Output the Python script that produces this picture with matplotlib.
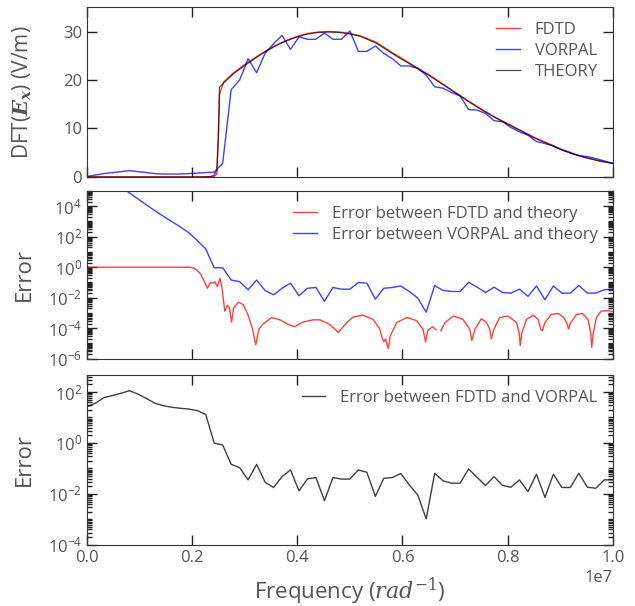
import numpy as np
import matplotlib
matplotlib.use("Agg")
import matplotlib.pyplot as plt
from matplotlib.ticker import LogLocator, NullFormatter, MultipleLocator

plt.rcParams['font.family'] = ['Open Sans', 'DejaVu Sans']
plt.rcParams['mathtext.fontset'] = 'custom'
plt.rcParams['mathtext.rm'] = 'DejaVu Serif'
plt.rcParams['mathtext.it'] = 'DejaVu Serif:italic'
plt.rcParams['mathtext.bf'] = 'DejaVu Serif:italic:bold'

# simulation frequency grid (63 samples, 0 .. 1e7)
freq = np.linspace(0, 1e7, 63)

# top panel: VORPAL spectrum on the grid (V/m)
vorpal = [0.1, 0.4, 0.7, 0.9, 1.1, 1.3, 1.1, 0.9, 0.7, 0.6, 0.6, 0.6, 0.7, 0.8, 0.9, 1.0,
          2.8, 18.0, 20.0, 24.4, 21.5, 25.5, 27.5, 29.2, 26.3, 28.9, 28.4, 28.4, 29.7, 28.4,
          28.4, 30.1, 25.9, 25.9, 27.0, 25.5, 24.4, 22.9, 22.9, 22.4, 21.0, 18.6, 18.3, 17.4,
          16.7, 13.9, 13.8, 13.1, 11.6, 11.4, 10.2, 9.3, 8.6, 7.3, 6.9, 6.4, 5.6, 5.0, 4.4,
          4.2, 3.8, 3.3, 2.8]

# theory / FDTD curves (x in units of 1e7)
theory_x = [0.0, 0.20, 0.235, 0.242, 0.247, 0.250, 0.252, 0.26, 0.28, 0.30, 0.32, 0.34, 0.36,
            0.38, 0.40, 0.42, 0.44, 0.46, 0.48, 0.50, 0.52, 0.55, 0.58, 0.60, 0.625, 0.65,
            0.675, 0.70, 0.725, 0.75, 0.775, 0.80, 0.825, 0.85, 0.875, 0.90, 0.925, 0.95,
            0.975, 1.0]
theory = [0.0, 0.0, 0.05, 0.4, 1.5, 8.0, 18.5, 19.4, 21.4, 23.0, 24.5, 25.9, 27.1, 28.1, 28.9,
          29.5, 29.8, 29.9, 29.8, 29.5, 29.0, 27.6, 25.5, 24.2, 22.6, 21.0, 19.2, 17.4, 15.6,
          13.9, 12.3, 10.9, 9.5, 8.1, 6.9, 5.7, 4.7, 3.9, 3.3, 2.8]
fdtd = [0.0, 0.0, 0.0, 0.1, 0.6, 10.0, 17.0, 19.6, 21.6, 23.2, 24.6, 26.0, 27.2, 28.2, 29.0,
        29.6, 29.9, 30.0, 29.9, 29.6, 29.1, 27.8, 25.7, 24.4, 22.7, 21.1, 19.3, 17.5, 15.7,
        14.0, 12.4, 11.0, 9.6, 8.2, 7.0, 5.8, 4.8, 4.0, 3.3, 2.8]

# middle panel: relative error FDTD vs theory (log10), own x (units of 1e7)
fdtd_err_x = [0.0, 0.196, 0.205, 0.215, 0.222, 0.229, 0.235, 0.240, 0.243, 0.248, 0.253, 0.257,
              0.262, 0.267, 0.271, 0.275, 0.279, 0.288, 0.297, 0.306, 0.315, 0.321, 0.327,
              0.334, 0.351, 0.367, 0.383, 0.395, 0.410, 0.430, 0.443, 0.459, 0.470, 0.478,
              0.494, 0.506, 0.525, 0.544, 0.557, 0.562, 0.565, 0.568, 0.573, 0.577, 0.589,
              0.608, 0.627, 0.639, 0.644, 0.648, 0.657, 0.664, 0.668, 0.673, 0.681, 0.697,
              0.715, 0.728, 0.732, 0.738, 0.750, 0.760, 0.766, 0.769, 0.774, 0.785, 0.801,
              0.817, 0.822, 0.824, 0.827, 0.836, 0.849, 0.858, 0.863, 0.866, 0.871, 0.883,
              0.896, 0.907, 0.913, 0.916, 0.919, 0.931, 0.942, 0.953, 0.958, 0.960, 0.963,
              0.969, 0.978, 0.991, 1.0]
fdtd_err_log = [0.0, 0.0, -0.09, -0.4, -0.84, -1.38, -1.0, -1.05, -0.95, -1.27, -0.73, -1.4,
                -2.88, -2.5, -2.65, -3.6, -2.67, -2.3, -2.45, -3.1, -4.06, -5.08, -4.06,
                -3.75, -3.3, -3.45, -3.75, -3.9, -3.6, -3.45, -3.45, -3.7, -4.0, -4.28,
                -3.63, -3.27, -3.14, -3.42, -4.06, -4.7, -4.88, -4.7, -5.35, -4.5, -3.63,
                -3.3, -3.5, -4.06, -4.9, -4.17, -3.9, -4.1, np.nan, -4.17, -3.63, -3.2,
                -3.42, -4.06, -4.8, -4.06, -3.38, -3.63, -4.06, -4.7, -4.06, -3.3, -3.2,
                -3.63, -4.3, -5.14, -4.3, -3.42, -3.14, -3.42, -4.06, -4.17, -3.63, -3.1,
                -3.03, -3.3, -3.7, -4.06, -3.7, -3.1, -3.03, -3.42, -4.3, -5.25, -4.3,
                -3.3, -2.88, -2.84, -2.9]

# middle panel: relative error VORPAL vs theory (log10) on the grid
vorpal_err_log = [6.8, 6.4, 6.0, 5.6, 5.25, 4.87, 4.48, 4.09, 3.70, 3.34, 2.99, 2.64, 2.26,
                  1.75, 1.2, -0.04, -0.04, -0.84, -0.95, -1.48, -0.84, -1.53, -1.81, -1.38,
                  -1.05, -1.87, -1.38, -1.33, -2.24, -1.33, -1.44, -1.44, -1.0, -1.05, -2.09,
                  -1.38, -1.33, -1.23, -1.59, -2.02, -2.95, -1.2, -1.53, -1.59, -1.59, -0.99,
                  -1.31, -1.66, -1.31, -1.66, -1.70, -1.44, -1.91, -1.23, -2.13, -1.23, -1.70,
                  -1.70, -1.20, -1.70, -1.70, -1.48, -1.44]

# bottom panel: relative error FDTD vs VORPAL (log10) on the grid
fv_err_log = [1.42, 1.56, 1.78, 1.86, 1.95, 2.05, 1.92, 1.75, 1.56, 1.46, 1.40, 1.36, 1.33,
              1.27, 1.12, -0.01, -0.08, -0.84, -0.97, -1.45, -0.84, -1.54, -1.75, -1.32,
              -1.06, -1.88, -1.41, -1.36, -2.27, -1.36, -1.42, -1.42, -1.06, -1.15, -2.10,
              -1.39, -1.36, -1.20, -1.65, -2.04, -2.98, -1.19, -1.49, -1.58, -1.58, -1.02,
              -1.35, -1.67, -1.32, -1.67, -1.74, -1.45, -1.91, -1.23, -2.14, -1.23, -1.75,
              -1.75, -1.19, -1.74, -1.78, -1.45, -1.45]

grey = '#555555'
a = 0.75

fig = plt.figure(figsize=(6.35, 6.06), dpi=100)
ax1 = fig.add_axes([0.137, 0.708, 0.828, 0.280])
ax2 = fig.add_axes([0.137, 0.408, 0.828, 0.277])
ax3 = fig.add_axes([0.137, 0.101, 0.828, 0.280])

ax1.plot(np.array(theory_x) * 1e7, fdtd, color='red', alpha=a, lw=1, label='FDTD')
ax1.plot(freq, vorpal, color='blue', alpha=a, lw=1, label='VORPAL')
ax1.plot(np.array(theory_x) * 1e7, theory, color='black', alpha=0.7, lw=0.9, label='THEORY')
ax1.set_ylim(0, 35)
ax1.yaxis.set_major_locator(MultipleLocator(10))
ax1.set_ylabel(r'DFT($\mathbf{E_x}$) (V/m)', fontsize=15, color=grey)

ax2.plot(np.array(fdtd_err_x) * 1e7, 10 ** np.array(fdtd_err_log), color='red', alpha=a,
         lw=1, label='Error between FDTD and theory')
ax2.plot(freq, 10 ** np.array(vorpal_err_log), color='blue', alpha=a, lw=1,
         label='Error between VORPAL and theory')
ax2.set_yscale('log')
ax2.set_ylim(1e-6, 1e5)
ax2.set_ylabel('Error', fontsize=16, color=grey)

ax3.plot(freq, 10 ** np.array(fv_err_log), color='black', alpha=a, lw=1,
         label='Error between FDTD and VORPAL')
ax3.set_yscale('log')
ax3.set_ylim(1e-4, 4.6e2)
ax3.set_ylabel('Error', fontsize=16, color=grey)
ax3.set_xlabel(r'Frequency ($rad^{-1}$)', fontsize=16, color=grey, labelpad=7)

for ax in (ax2, ax3):
    ax.yaxis.set_major_locator(LogLocator(base=100))
    ax.yaxis.set_minor_locator(LogLocator(base=10, subs=np.arange(1, 10), numticks=100))
    ax.yaxis.set_minor_formatter(NullFormatter())

for ax in (ax1, ax2, ax3):
    ax.set_xlim(0, 1e7)
    ax.xaxis.set_major_locator(MultipleLocator(2e6))
    ax.tick_params(which='both', direction='in', top=True, right=True, labelsize=12,
                   labelcolor=grey, color='#222222')
    ax.tick_params(which='major', length=7, width=1)
    ax.tick_params(which='minor', length=3.5, width=1)
    for s in ax.spines.values():
        s.set_color('#333333')
    ax.legend(loc='upper right', frameon=False, fontsize=12, labelspacing=0.3,
              handlelength=1.4, handletextpad=0.9, labelcolor=grey)
    ax.yaxis.set_label_coords(-0.1, 0.5)

ax1.tick_params(labelbottom=False)
ax2.tick_params(labelbottom=False)
ax3.xaxis.get_offset_text().set_fontsize(12)
ax3.xaxis.get_offset_text().set_color(grey)

fig.savefig('out.png', dpi=100)
